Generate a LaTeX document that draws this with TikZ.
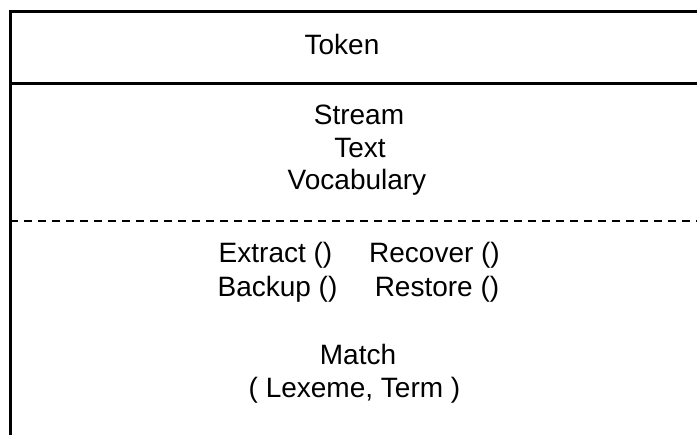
\documentclass[tikz,border=0pt]{standalone}
\usepackage{fontspec}
\setmainfont{Liberation Sans}
\begin{document}
\begin{tikzpicture}[x=1pt,y=1pt,
  lbl/.style={inner sep=0pt,anchor=base,font=\fontsize{28}{33}\selectfont},
  solidline/.style={line width=3pt,black},
  dashline/.style={line width=2pt,black,dash pattern=on 8pt off 6pt}]
\useasboundingbox (0,0) rectangle (697,-435);
\coordinate (bl) at (10.5,-435);
\coordinate (tl) at (10.5,-12);
\coordinate (tr) at (697,-12);
\coordinate (ml) at (10.5,-84);
\coordinate (mr) at (697,-84);
\coordinate (dl) at (10,-221);
\coordinate (dr) at (697,-221);
\draw[solidline,line join=miter] (bl) -- (tl) -- (tr);
\draw[solidline] (ml) -- (mr);
\draw[dashline] (dl) -- (dr);
\node[lbl] (token) at (342,-55) {Token};
\node[lbl] (stream) at (359,-125) {Stream};
\node[lbl] (text) at (360,-158) {Text};
\node[lbl] (vocab) at (357,-190) {Vocabulary};
\node[lbl] (extract) at (275.5,-263) {Extract ()};
\node[lbl] (recover) at (434.5,-263) {Recover ()};
\node[lbl] (backup) at (277.5,-297) {Backup ()};
\node[lbl] (restore) at (437,-297) {Restore ()};
\node[lbl] (match) at (358,-365) {Match};
\node[lbl] (args) at (354.5,-398) {( Lexeme, Term )};
\end{tikzpicture}
\end{document}
